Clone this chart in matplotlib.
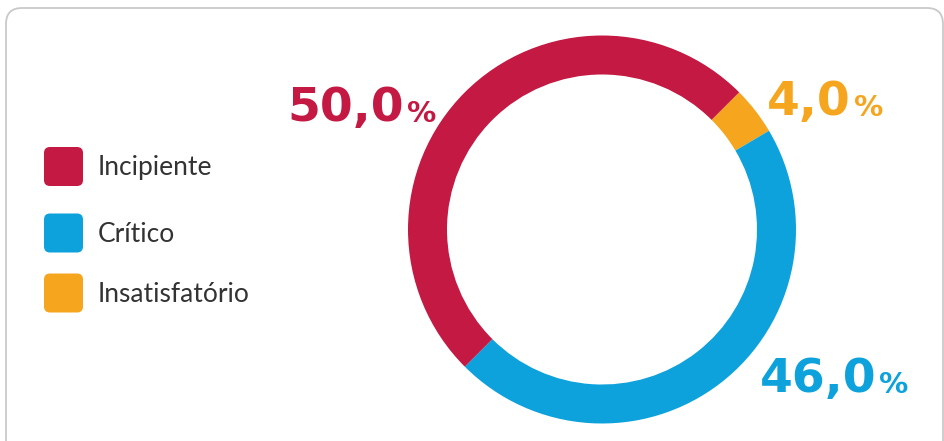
import matplotlib
matplotlib.use("Agg")
import matplotlib.pyplot as plt
from matplotlib.patches import FancyBboxPatch

# Data
categories = ["Incipiente", "Crítico", "Insatisfatório"]
values = [50.0, 46.0, 4.0]
colors = ["#C31942", "#0EA2DC", "#F6A51F"]

W, H = 945, 441
fig = plt.figure(figsize=(W / 100, H / 100), dpi=100)
fig.patch.set_facecolor("white")

# Overlay axes in pixel coordinates
ov = fig.add_axes([0, 0, 1, 1])
ov.set_xlim(0, W)
ov.set_ylim(H, 0)
ov.axis("off")

# Card border (bottom runs off the image)
border = FancyBboxPatch((6, 8), 937, 470,
                        boxstyle="round,pad=0,rounding_size=16",
                        facecolor="none", edgecolor="#c9c9c9", lw=1.3)
ov.add_patch(border)

# Donut
cx, cy, R = 602, 229.5, 194
ax = fig.add_axes([(cx - 200) / W, (H - cy - 200) / H, 400 / W, 400 / H])
order = [2, 1, 0]  # clockwise from 45°: Insatisfatório, Crítico, Incipiente
ax.pie([values[i] for i in order], colors=[colors[i] for i in order],
       startangle=45, counterclock=False, radius=R,
       wedgeprops=dict(width=39, linewidth=0))
ax.set_xlim(-200, 200)
ax.set_ylim(-200, 200)
ax.set_aspect("equal")
ax.axis("off")

# Legend
legend_y = [166.5, 233, 293]
for lab, col, y in zip(categories, colors, legend_y):
    sq = FancyBboxPatch((44, y - 19.5), 39, 39,
                        boxstyle="round,pad=0,rounding_size=6",
                        facecolor=col, edgecolor="none")
    ov.add_patch(sq)
    ov.text(98, y + 1, lab, fontsize=19, color="#333333",
            family=["Lato", "DejaVu Sans"], va="center", ha="left")

# Value labels: (right edge of number, baseline y)
label_pos = {"Incipiente": (404, 121), "Crítico": (876, 392), "Insatisfatório": (851, 115)}
for lab, col, v in zip(categories, colors, values):
    x, y = label_pos[lab]
    num = f"{v:.1f}".replace(".", ",")
    ov.text(x, y, num, fontsize=34, fontweight="bold", color=col,
            family="DejaVu Sans", ha="right", va="baseline")
    ov.text(x + 3, y + 1, "%", fontsize=21, fontweight="bold", color=col,
            family="DejaVu Sans", ha="left", va="baseline")

fig.savefig("out.png", dpi=100, facecolor="white")
